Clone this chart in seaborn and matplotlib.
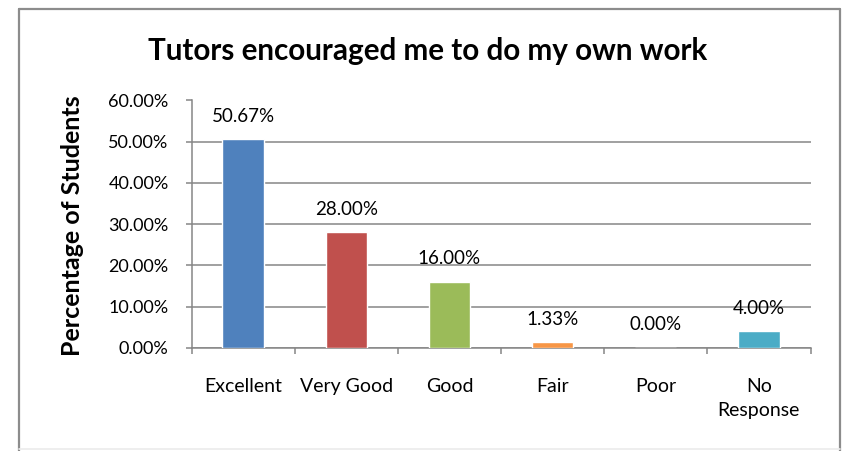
import matplotlib
matplotlib.use("Agg")
import matplotlib.pyplot as plt
from matplotlib.lines import Line2D
from matplotlib.ticker import PercentFormatter, FixedLocator
import seaborn as sns
import pandas as pd

categories = ["Excellent", "Very Good", "Good", "Fair", "Poor", "No\nResponse"]
values = [50.67, 28.00, 16.00, 1.33, 0.00, 4.00]
colors = ["#4F81BD", "#C0504D", "#9BBB59", "#F79646", "#8064A2", "#4BACC6"]
title = "Tutors encouraged me to do my own work"
ylabel = "Percentage of Students"
yticks = [0, 10, 20, 30, 40, 50, 60]

sns.set_theme(style="white")
plt.rcParams["font.family"] = ["Lato", "DejaVu Sans"]

W, H = 846, 451
fig = plt.figure(figsize=(W / 100, H / 100), dpi=100)
fig.patch.set_facecolor("white")


def fx(px):
    return px / W


def fy(py):
    return 1 - py / H


# outer chart frame
grey = "#8C8C8C"
fig.add_artist(Line2D([fx(19), fx(19)], [fy(9), fy(451)], color=grey, lw=1.6))
fig.add_artist(Line2D([fx(19), fx(840)], [fy(9), fy(9)], color=grey, lw=1.6))
fig.add_artist(Line2D([fx(840), fx(840)], [fy(9), fy(451)], color=grey, lw=1.6))
fig.add_artist(Line2D([fx(19), fx(840)], [fy(449), fy(449)], color="#EBEBEB", lw=1.2))

ax = fig.add_axes([fx(191.5), fy(347.7), fx(810.5) - fx(191.5), fy(100.5) - fy(347.7)])

df = pd.DataFrame({"category": categories, "value": values})
sns.barplot(data=df, x="category", y="value", hue="category", palette=colors,
            width=0.4, saturation=1, legend=False, ax=ax, zorder=3)

ax.set_xlim(-0.5, len(categories) - 0.5)
ax.set_ylim(0, 60)
ax.yaxis.set_major_locator(FixedLocator(yticks))
ax.yaxis.set_major_formatter(PercentFormatter(xmax=100, decimals=2))
ax.grid(axis="y", color="#868686", lw=1.1, zorder=0)
ax.grid(axis="x", visible=False)

for side in ["top", "right"]:
    ax.spines[side].set_visible(False)
for side in ["left", "bottom"]:
    ax.spines[side].set_color("#868686")
    ax.spines[side].set_linewidth(1.1)

ax.tick_params(axis="y", which="major", direction="out", length=4.5, width=1.1,
               color="#868686", labelsize=13, pad=12, left=True, labelcolor="black")
ax.set_xticks(range(len(categories)))
ax.set_xticklabels(categories, linespacing=1.55)
ax.set_xticks([i - 0.5 for i in range(len(categories) + 1)], minor=True)
ax.tick_params(axis="x", which="major", length=0, labelsize=14, pad=21.5, labelcolor="black")
ax.tick_params(axis="x", which="minor", direction="out", length=4.5, width=1.1,
               color="#868686", bottom=True)

ax.set_xlabel("")
ax.set_ylabel("")

for i, v in enumerate(values):
    ax.annotate(f"{v:.2f}%", xy=(i, v), xytext=(0, 16.5), textcoords="offset points",
                ha="center", va="center", fontsize=13.5, color="black")

fig.text(fx(72), fy(226), ylabel, ha="center", va="center", rotation=90,
         fontsize=18, fontweight="bold", color="black")
fig.text(fx(428), fy(51), title, ha="center", va="center", fontsize=21.3,
         fontweight="bold", color="black")

fig.savefig("out.png", dpi=100, facecolor="white")
